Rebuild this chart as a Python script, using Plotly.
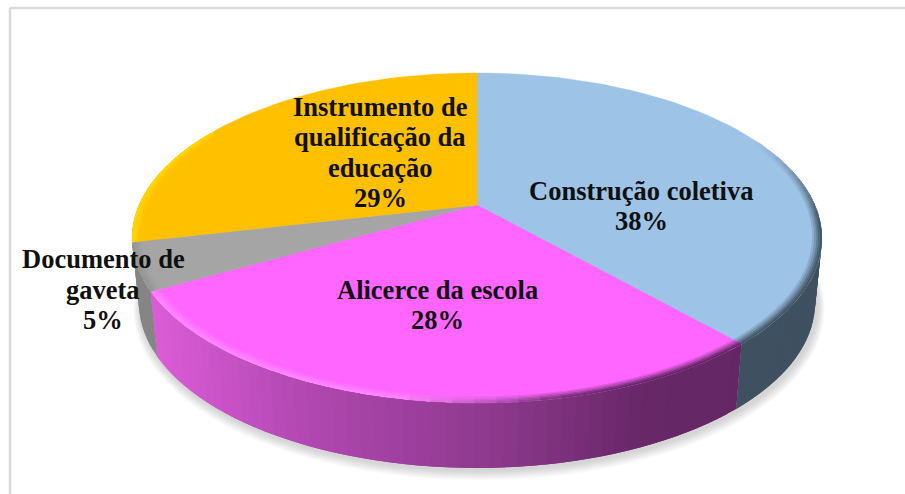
import math
import plotly.graph_objects as go

# --- data ---
categories = ["Construção coletiva", "Alicerce da escola", "Documento de gaveta", "Instrumento de qualificação da educação"]
values = [38.4, 28.4, 4.6, 28.6]
percent_labels = ["38%", "28%", "5%", "29%"]
label_lines = [
    ["Construção coletiva"],
    ["Alicerce da escola"],
    ["Documento de", "gaveta"],
    ["Instrumento de", "qualificação da", "educação"],
]
top_colors = ["#9DC3E6", "#FF66FF", "#A5A5A5", "#FFC000"]

# --- geometry of the projected disc (pixel axes) ---
CX, CY, A, B, K = 477, 205, 158.4, 338, 0.2
DEPTH, BOTTOM_SCALE = 65, 0.98
LABEL_POS = [(641, 206), (437.5, 305), (103, 289.5), (380, 152.5)]
LINE_GAP = 30.5


def proj(theta, r=1.0, lower=False):
    d = 1 + K * r * math.cos(theta)
    x = B * r * math.sin(theta) / d
    y = -A * r * math.cos(theta) / d
    if lower:
        return CX + x * BOTTOM_SCALE, CY + y + DEPTH
    return CX + x, CY + y


def hex2rgb(h):
    return tuple(int(h[i:i + 2], 16) for i in (1, 3, 5))


def lerp(c1, c2, t):
    t = max(0, min(1, t))
    return tuple(c1[i] + (c2[i] - c1[i]) * t for i in range(3))


def css(c):
    return "rgb(%d,%d,%d)" % tuple(round(v) for v in c)


def poly(fig, pts, color, line=0.0, opacity=1.0):
    xs = [p[0] for p in pts] + [pts[0][0]]
    ys = [p[1] for p in pts] + [pts[0][1]]
    fig.add_trace(go.Scatter(x=xs, y=ys, mode="lines", fill="toself", fillcolor=color,
                             line=dict(color=color, width=line), opacity=opacity,
                             hoverinfo="skip", showlegend=False))


MAG_STOPS = [(150, (220, 92, 216)), (300, (178, 72, 178)), (500, (140, 56, 140)),
             (640, (104, 40, 104)), (760, (100, 38, 100))]


def magenta_side(x):
    for (x0, c0), (x1, c1) in zip(MAG_STOPS, MAG_STOPS[1:]):
        if x <= x1:
            return lerp(c0, c1, (x - x0) / (x1 - x0))
    return MAG_STOPS[-1][1]


def side_color(i, x):
    if i == 1:
        return magenta_side(x)
    return {0: (63, 80, 96), 2: (133, 133, 133), 3: (133, 133, 133)}[i]


def bevel_color(i, x):
    if i == 1:
        if x < 400:
            return (255, 135, 255)
        return lerp((255, 135, 255), magenta_side(x), (x - 400) / 160)
    if i == 0:
        return (70, 88, 105)
    if i == 2:
        return (150, 150, 150)
    return (255, 214, 0)


total = sum(values)
edges = [0]
for v in values:
    edges.append(edges[-1] + v / total * 2 * math.pi)

fig = go.Figure()

# soft shadow under the disc
N = 120
for s in range(9, 0, -1):
    pts = []
    for j in range(N):
        th = j / N * 2 * math.pi
        x, y = proj(th, lower=True)
        pts.append((CX + 2 + (x - CX) * (1 + s * 0.0025), y + 2 + (y - CY - 35) * s * 0.004 + s * 0.25))
    poly(fig, pts, "rgb(120,120,120)", opacity=0.035)

# side wall: each quad overlaps the next one so no seams show
STEP = math.radians(2.0)
for i in range(len(values)):
    a0, a1 = edges[i], edges[i + 1]
    lo, hi = max(a0, math.radians(75)), min(a1, math.radians(285))
    if hi <= lo:
        continue
    n = max(1, int((hi - lo) / STEP))
    for j in range(n):
        t0 = lo + (hi - lo) * j / n
        t1 = lo + (hi - lo) * (j + 1) / n
        t2 = min(hi, t1 + STEP)
        mid = proj((t0 + t1) / 2)[0]
        poly(fig, [proj(t0), proj(t2), proj(t2, lower=True), proj(t0, lower=True)], css(side_color(i, mid)))

# top face
for i in range(len(values)):
    a0, a1 = edges[i], edges[i + 1]
    n = max(4, int((a1 - a0) / math.radians(2)))
    pts = [(CX, CY)] + [proj(a0 + (a1 - a0) * j / n) for j in range(n + 1)]
    poly(fig, pts, top_colors[i], line=0.4)

# bevel along the front rim
RINGS = [(0.974, 1.0, 0.2), (0.980, 1.0, 0.42), (0.986, 1.0, 0.65), (0.991, 1.0, 0.85), (0.996, 1.0, 1.0)]
for i in range(len(values)):
    a0, a1 = edges[i], edges[i + 1]
    lo, hi = max(a0, math.radians(65)), min(a1, math.radians(300))
    if hi <= lo:
        continue
    n = max(1, int((hi - lo) / math.radians(3)))
    for r0, r1, w in RINGS:
        for j in range(n):
            t0 = lo + (hi - lo) * j / n
            t1 = lo + (hi - lo) * (j + 1) / n
            t2 = min(hi, t1 + math.radians(3))
            tm = (t0 + t1) / 2
            fade = min(1, (math.degrees(tm) - 65) / 30)
            c = lerp(hex2rgb(top_colors[i]), bevel_color(i, proj(tm)[0]), w * fade)
            poly(fig, [proj(t0, r0), proj(t2, r0), proj(t2, r1), proj(t0, r1)], css(c))

# labels: one annotation per text line so the spacing can follow the reference
annotations = []
for lines, pct, (lx, ly) in zip(label_lines, percent_labels, LABEL_POS):
    all_lines = lines + [pct]
    top = ly - LINE_GAP * (len(all_lines) - 1) / 2
    for n, txt in enumerate(all_lines):
        annotations.append(dict(x=lx, y=top + n * LINE_GAP, xref="x", yref="y", showarrow=False,
                                text=txt, yanchor="middle", xanchor="center",
                                font=dict(family="Liberation Serif", size=26.5, color="#101010", weight="bold")))

# frame of the chart area
shapes = [
    dict(type="line", xref="x", yref="y", x0=10, x1=905, y0=8, y1=8, line=dict(color="#DADADA", width=2.5)),
    dict(type="line", xref="x", yref="y", x0=10, x1=10, y0=8, y1=494, line=dict(color="#DADADA", width=2.5)),
]

fig.update_layout(
    width=905, height=494, margin=dict(l=0, r=0, t=0, b=0),
    paper_bgcolor="white", plot_bgcolor="white",
    xaxis=dict(range=[0, 905], visible=False, fixedrange=True),
    yaxis=dict(range=[494, 0], visible=False, fixedrange=True),
    annotations=annotations, shapes=shapes, showlegend=False,
)
fig.write_html("out.html", config={"displayModeBar": False},
               post_script="document.body.style.margin='0';document.documentElement.style.overflow='hidden';")
